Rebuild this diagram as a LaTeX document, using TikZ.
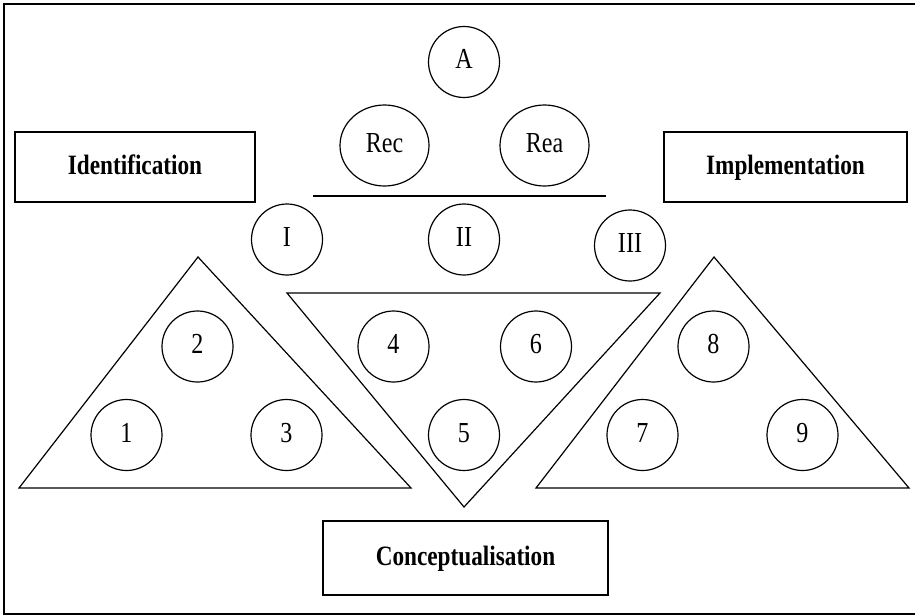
\documentclass[tikz,border=0pt]{standalone}
\usepackage{fontspec}
\setmainfont[FakeStretch=0.83]{Liberation Serif}
\usetikzlibrary{shapes.geometric,positioning}

\begin{document}
\begin{tikzpicture}[x=1pt,y=-1pt,line width=1.2pt,
		ball/.style={draw,circle,minimum size=71pt,inner sep=0pt,text height=20pt,text depth=6pt,font=\fontsize{29}{29}\selectfont},
		oval/.style={draw,ellipse,minimum width=89pt,minimum height=81pt,inner sep=0pt,text height=20pt,text depth=6pt,font=\fontsize{29}{29}\selectfont},
		phase/.style={draw,minimum width=240pt,minimum height=70pt,inner sep=0pt,text height=19pt,text depth=5pt,font=\bfseries\fontsize{28}{28}\selectfont}]
		\useasboundingbox (0,0) rectangle (915,615);
		\draw (917,4) -- (4,4) -- (4,614) -- (917,614);
		\node[phase] (ident) at (135,167) {Identification};
		\node[phase,minimum width=243pt] (impl) at (785.5,167) {Implementation};
		\node[phase,minimum width=285pt,minimum height=74pt] (concept) at (465.5,558) {Conceptualisation};
		\node[ball] (a) at (464,62) {A};
		\node[oval] (rec) at (384.5,145.5) {Rec};
		\node[oval] (rea) at (544.5,145.5) {Rea};
		\draw (313,196) -- (606,196);
		\node[ball] (i) at (287,239.5) {I};
		\node[ball] (ii) at (464,239.5) {II};
		\node[ball] (iii) at (630,245.5) {III};
		\draw (19,488) -- (198,257) -- (411,488) -- cycle;
		\draw (287,293) -- (660,293) -- (464,507) -- cycle;
		\draw (536,488) -- (714,257) -- (909,488) -- cycle;
		\foreach \n/\x/\y in {1/126.5/435,2/197.5/346.5,3/286.5/435,4/393.5/346.5,5/464/435,6/536/346.5,7/642.5/435,8/713.5/346.5,9/802.5/435}
			\node[ball] (n\n) at (\x,\y) {\n};
	\end{tikzpicture}
\end{document}
